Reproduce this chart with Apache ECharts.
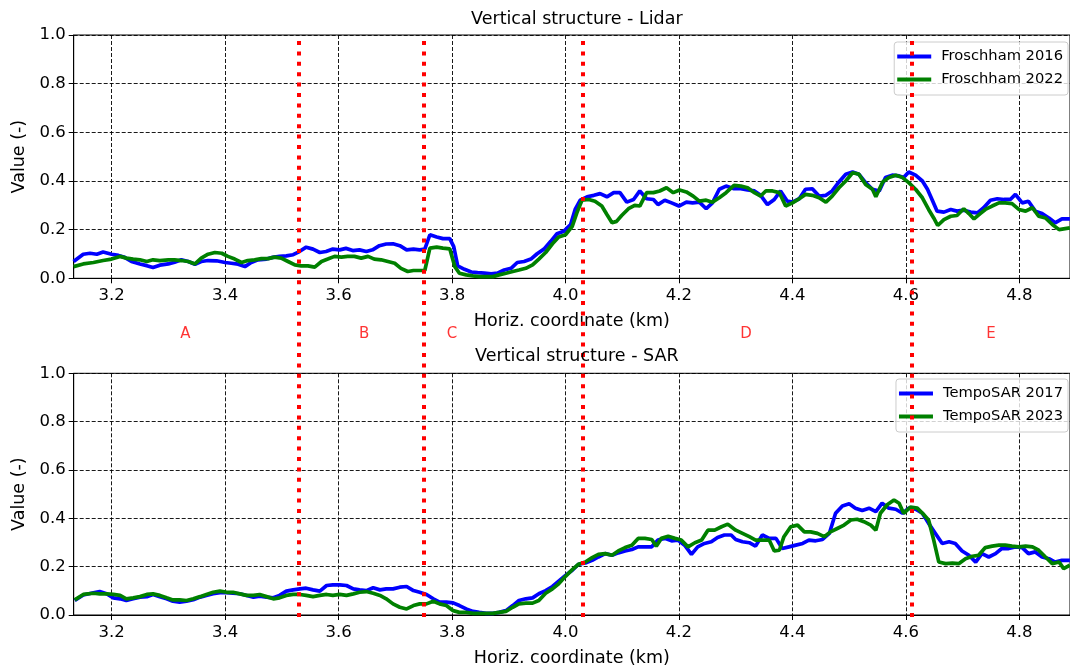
<!DOCTYPE html>
<html><head><meta charset="utf-8">
<script src="https://cdn.jsdelivr.net/npm/echarts@6/dist/echarts.min.js"></script>
<style>html,body{margin:0;padding:0;background:#fff}#c{width:1070px;height:668px}</style>
</head><body><div id="c"></div><script>
// ---- data ----
const xTicks = [3.2, 3.4, 3.6, 3.8, 4.0, 4.2, 4.4, 4.6, 4.8];
const yTicks = [0, 0.2, 0.4, 0.6, 0.8, 1.0];
const boundaries = [3.527, 3.752, 4.028, 4.607];
const regionNames = ['A', 'B', 'C', 'D', 'E'];
const regionLabelX = [3.33, 3.645, 3.80, 4.318, 4.75];

const lidarX2016 = [3.133,3.150,3.162,3.174,3.185,3.200,3.212,3.223,3.235,3.250,3.262,3.273,3.285,3.300,3.311,3.323,3.335,3.347,3.358,3.370,3.385,3.400,3.411,3.423,3.435,3.446,3.458,3.473,3.484,3.496,3.508,3.520,3.531,3.543,3.555,3.567,3.578,3.590,3.602,3.613,3.625,3.637,3.649,3.660,3.672,3.684,3.696,
3.708,3.720,3.732,3.743,3.752,3.761,3.773,3.784,3.796,3.803,3.810,3.822,3.834,3.845,3.857,3.869,3.880,3.892,3.904,3.915,3.927,3.939,3.950,3.962,3.974,3.985,3.997,4.009,4.017,4.026,4.038,4.050,4.061,4.073,4.085,4.096,4.108,4.120,4.131,4.143,4.155,4.163,4.175,4.187,4.200,4.213,4.224,4.236,4.248,4.259,4.271,4.283,
4.297,4.309,4.321,4.333,4.344,4.356,4.368,4.379,4.391,4.400,4.412,4.423,4.435,4.447,4.459,4.470,4.482,4.494,4.506,4.517,4.529,4.541,4.553,4.564,4.576,4.588,4.596,4.605,4.617,4.629,4.638,4.646,4.655,4.667,4.679,4.690,4.702,4.714,4.726,4.737,4.749,4.761,4.773,4.784,4.793,4.805,4.816,4.828,4.840,4.852,4.863,4.875,4.889];
const lidar2016 = [0.069,0.099,0.103,0.099,0.108,0.099,0.094,0.086,0.069,0.059,0.052,0.044,0.054,0.059,0.066,0.076,0.069,0.058,0.069,0.073,0.072,0.065,0.062,0.058,0.048,0.065,0.076,0.079,0.086,0.090,0.092,0.097,0.110,0.128,0.120,0.106,0.110,0.120,0.117,0.123,0.114,0.117,0.110,0.117,0.134,0.141,0.142,
0.134,0.117,0.120,0.117,0.120,0.179,0.170,0.163,0.163,0.130,0.051,0.037,0.026,0.023,0.021,0.018,0.021,0.034,0.041,0.065,0.069,0.079,0.101,0.120,0.152,0.183,0.193,0.221,0.283,0.321,0.335,0.341,0.348,0.335,0.352,0.352,0.313,0.324,0.359,0.327,0.324,0.303,0.321,0.310,0.297,0.313,0.310,0.313,0.286,0.310,0.366,0.379,
0.368,0.368,0.363,0.359,0.341,0.303,0.324,0.359,0.317,0.313,0.327,0.366,0.368,0.338,0.341,0.359,0.396,0.428,0.437,0.428,0.393,0.366,0.359,0.414,0.424,0.421,0.414,0.437,0.424,0.400,0.366,0.324,0.276,0.272,0.283,0.276,0.280,0.272,0.269,0.290,0.321,0.327,0.324,0.324,0.345,0.310,0.317,0.276,0.266,0.248,0.228,0.244,0.244];

const lidarX2022 = [3.133,3.150,3.168,3.185,3.200,3.215,3.226,3.238,3.250,3.262,3.273,3.285,3.300,3.311,3.323,3.335,3.347,3.358,3.370,3.382,3.394,3.405,3.417,3.429,3.440,3.452,3.464,3.476,3.487,3.499,3.511,3.523,3.534,3.546,3.558,3.570,3.581,3.593,3.605,3.616,3.628,3.640,3.652,3.663,3.675,3.687,3.699,3.710,3.722,
3.732,3.743,3.752,3.761,3.773,3.784,3.796,3.805,3.813,3.825,3.837,3.848,3.860,3.872,3.883,3.895,3.907,3.918,3.930,3.942,3.953,3.965,3.977,3.988,4.000,4.012,4.020,4.029,4.041,4.052,4.064,4.073,4.082,4.090,4.099,4.111,4.122,4.131,4.143,4.155,4.166,4.178,4.190,4.201,4.213,4.225,4.236,4.248,4.259,4.271,4.283,
4.297,4.309,4.321,4.333,4.344,4.353,4.365,4.377,4.388,4.400,4.412,4.423,4.435,4.447,4.459,4.470,4.482,4.494,4.506,4.517,4.529,4.541,4.547,4.559,4.570,4.582,4.594,4.605,4.617,4.629,4.640,4.649,4.656,4.667,4.679,4.690,4.702,4.711,4.720,4.731,4.740,4.752,4.764,4.775,4.787,4.799,4.811,4.823,4.834,4.846,4.858,4.870,4.889];
const lidar2022 = [0.048,0.059,0.065,0.073,0.079,0.090,0.083,0.079,0.076,0.069,0.076,0.073,0.076,0.076,0.073,0.069,0.059,0.083,0.099,0.106,0.103,0.090,0.079,0.065,0.073,0.076,0.081,0.081,0.087,0.083,0.069,0.055,0.051,0.051,0.046,0.069,0.079,0.090,0.087,0.090,0.090,0.083,0.090,0.079,0.076,0.069,0.062,0.041,0.028,
0.032,0.032,0.032,0.124,0.128,0.124,0.121,0.048,0.021,0.014,0.010,0.007,0.007,0.007,0.014,0.021,0.028,0.034,0.041,0.055,0.079,0.106,0.142,0.170,0.179,0.214,0.269,0.321,0.324,0.317,0.297,0.262,0.228,0.234,0.258,0.286,0.300,0.297,0.352,0.352,0.359,0.372,0.352,0.363,0.355,0.338,0.317,0.321,0.313,0.331,0.352,
0.382,0.379,0.372,0.352,0.338,0.359,0.359,0.352,0.297,0.310,0.327,0.345,0.341,0.331,0.313,0.338,0.372,0.400,0.434,0.428,0.386,0.366,0.335,0.396,0.414,0.424,0.414,0.393,0.366,0.331,0.283,0.248,0.217,0.241,0.255,0.258,0.286,0.266,0.244,0.266,0.283,0.297,0.310,0.310,0.307,0.283,0.276,0.290,0.255,0.248,0.221,0.200,0.207];

const sarX2017 = [3.135,3.150,3.168,3.179,3.191,3.203,3.215,3.226,3.238,3.250,3.262,3.273,3.285,3.297,3.308,3.320,3.332,3.344,3.356,3.367,3.379,3.391,3.403,3.414,3.426,3.438,3.450,3.461,3.473,3.485,3.496,3.508,3.520,3.532,3.543,3.555,3.567,3.579,3.590,3.602,3.614,3.626,3.637,3.649,3.661,3.673,3.684,3.696,3.708,
3.720,3.732,3.743,3.755,3.767,3.778,3.790,3.802,3.813,3.825,3.837,3.848,3.860,3.872,3.883,3.895,3.907,3.918,3.930,3.942,3.953,3.965,3.977,3.988,4.000,4.012,4.023,4.035,4.047,4.058,4.070,4.082,4.093,4.105,4.117,4.128,4.140,4.152,4.163,4.175,4.187,4.198,4.210,4.222,4.233,4.245,4.257,4.268,4.280,4.292,
4.300,4.312,4.324,4.335,4.347,4.359,4.371,4.382,4.394,4.406,4.418,4.429,4.441,4.453,4.465,4.476,4.488,4.500,4.511,4.523,4.535,4.547,4.558,4.570,4.582,4.594,4.605,4.617,4.629,4.640,4.652,4.664,4.676,4.687,4.699,4.711,4.723,4.734,4.746,4.758,4.769,4.781,4.793,4.805,4.816,4.828,4.840,4.852,4.863,4.875,4.889];
const sar2017 = [0.060,0.083,0.092,0.097,0.088,0.071,0.067,0.060,0.067,0.074,0.076,0.085,0.076,0.067,0.057,0.053,0.057,0.063,0.074,0.081,0.088,0.092,0.092,0.090,0.088,0.081,0.074,0.078,0.074,0.071,0.081,0.099,0.104,0.108,0.111,0.104,0.099,0.122,0.125,0.125,0.122,0.108,0.104,0.101,0.113,0.104,0.108,0.108,0.115,
0.118,0.101,0.094,0.085,0.067,0.053,0.053,0.050,0.039,0.025,0.015,0.011,0.007,0.007,0.011,0.018,0.039,0.060,0.067,0.071,0.088,0.101,0.118,0.140,0.164,0.185,0.210,0.215,0.226,0.240,0.254,0.247,0.257,0.265,0.271,0.282,0.282,0.282,0.310,0.317,0.307,0.310,0.289,0.251,0.282,0.296,0.303,0.321,0.331,0.331,
0.3125,0.303,0.299,0.285,0.331,0.317,0.317,0.275,0.282,0.289,0.296,0.310,0.307,0.3125,0.3375,0.421,0.451,0.460,0.442,0.432,0.442,0.428,0.4625,0.442,0.4375,0.421,0.442,0.4375,0.421,0.379,0.3375,0.296,0.303,0.296,0.265,0.247,0.219,0.254,0.240,0.254,0.275,0.275,0.282,0.279,0.254,0.261,0.240,0.233,0.219,0.226,0.226];

const sarX2023 = [3.135,3.150,3.168,3.179,3.191,3.203,3.215,3.226,3.238,3.250,3.262,3.273,3.285,3.297,3.308,3.320,3.332,3.344,3.356,3.367,3.379,3.391,3.403,3.414,3.426,3.438,3.450,3.461,3.473,3.485,3.496,3.508,3.520,3.532,3.543,3.555,3.567,3.579,3.590,3.602,3.614,3.626,3.637,3.649,3.661,3.673,3.684,3.696,3.708,
3.720,3.732,3.743,3.755,3.767,3.778,3.790,3.802,3.813,3.825,3.837,3.848,3.860,3.872,3.883,3.895,3.907,3.918,3.930,3.942,3.953,3.965,3.977,3.988,4.000,4.012,4.023,4.035,4.047,4.058,4.070,4.082,4.093,4.105,4.117,4.128,4.140,4.152,4.160,4.169,4.181,4.193,4.204,4.216,4.228,4.240,4.251,4.263,4.275,4.286,
4.300,4.312,4.324,4.335,4.347,4.359,4.368,4.377,4.385,4.397,4.409,4.421,4.432,4.444,4.456,4.467,4.479,4.491,4.503,4.514,4.526,4.538,4.547,4.555,4.567,4.579,4.588,4.596,4.608,4.620,4.632,4.640,4.649,4.658,4.670,4.682,4.693,4.705,4.717,4.728,4.740,4.752,4.764,4.775,4.787,4.799,4.811,4.823,4.834,4.846,4.858,4.870,4.878,4.889];
const sar2023 = [0.0625,0.085,0.090,0.0875,0.0875,0.085,0.081,0.067,0.071,0.076,0.085,0.0875,0.081,0.071,0.0625,0.0625,0.060,0.067,0.076,0.085,0.094,0.099,0.094,0.094,0.0875,0.081,0.081,0.085,0.076,0.067,0.071,0.081,0.085,0.085,0.081,0.076,0.081,0.085,0.081,0.085,0.081,0.0875,0.094,0.097,0.090,0.081,0.067,0.046,0.032,
0.025,0.039,0.046,0.046,0.057,0.046,0.039,0.018,0.011,0.011,0.007,0.007,0.007,0.007,0.011,0.015,0.032,0.046,0.049,0.049,0.060,0.090,0.108,0.129,0.160,0.1875,0.210,0.219,0.2375,0.251,0.254,0.247,0.265,0.279,0.289,0.317,0.317,0.3125,0.285,0.317,0.326,0.317,0.310,0.282,0.299,0.310,0.351,0.351,0.365,0.376,
0.351,0.3375,0.324,0.310,0.310,0.310,0.265,0.268,0.324,0.365,0.372,0.344,0.344,0.3375,0.324,0.344,0.358,0.372,0.393,0.396,0.386,0.372,0.351,0.421,0.456,0.476,0.4625,0.421,0.446,0.442,0.414,0.393,0.310,0.219,0.2125,0.215,0.2125,0.233,0.243,0.247,0.279,0.285,0.289,0.289,0.285,0.282,0.285,0.282,0.268,0.240,0.2125,0.219,0.192,0.206];

// ---- layout / style ----
const FONT = 'DejaVu Sans';
const X_MIN = 3.1332, X_MAX = 4.8892;
const PLOT_LEFT = 73.7, PLOT_RIGHT = -2;
const LETTER_Y = 0.486; // vertical placement of region letters in overlay grid (0..1)
const zip = (xs, ys) => xs.map((x, i) => [x, ys[i]]);

function xAxisFor(gi) {
  return {
    type: 'value', gridIndex: gi, min: X_MIN, max: X_MAX,
    name: 'Horiz. coordinate (km)', nameLocation: 'middle', nameGap: 34,
    nameTextStyle: { fontSize: 17.5, color: '#000', fontFamily: FONT },
    axisLine: { show: true, onZero: false, lineStyle: { color: '#000', width: 1 } },
    axisTick: { show: true, customValues: xTicks, length: 5, lineStyle: { color: '#000', width: 1 } },
    axisLabel: { customValues: xTicks, formatter: v => v.toFixed(1), fontSize: 16.5, color: '#000', fontFamily: FONT, margin: 9 },
    splitLine: { show: true, lineStyle: { color: '#000', type: [4, 2], width: 0.9 } }
  };
}
function yAxisFor(gi) {
  return {
    type: 'value', gridIndex: gi, min: yTicks[0], max: yTicks[yTicks.length - 1], interval: 0.2,
    name: 'Value (-)', nameLocation: 'middle', nameGap: 45, nameRotate: 90,
    nameTextStyle: { fontSize: 17.5, color: '#000', fontFamily: FONT },
    axisLine: { show: true, lineStyle: { color: '#000', width: 1 } },
    axisTick: { show: true, length: 5, lineStyle: { color: '#000', width: 1 } },
    axisLabel: { formatter: v => v.toFixed(1), fontSize: 16.5, color: '#000', fontFamily: FONT, margin: 8 },
    splitLine: { show: true, lineStyle: { color: '#000', type: [4, 2], width: 0.9 } }
  };
}
function lineSeries(name, gi, xs, ys, color) {
  return {
    type: 'line', name, xAxisIndex: gi, yAxisIndex: gi, data: zip(xs, ys),
    symbol: 'none', showSymbol: false, lineStyle: { color, width: 3.7 }, itemStyle: { color },
    silent: true, z: 2
  };
}
function legendFor(names, top) {
  return {
    data: names, orient: 'vertical', right: 2, top,
    icon: 'rect', itemWidth: 34, itemHeight: 4, itemGap: 6,
    textStyle: { fontSize: 14.7, color: '#000', fontFamily: FONT, lineHeight: 17, padding: [0, 0, 0, 5] },
    backgroundColor: 'rgba(255,255,255,0.8)', borderColor: '#cccccc', borderWidth: 1, borderRadius: 3,
    padding: [6, 5, 7, 3]
  };
}

const chart = echarts.init(document.getElementById('c'), null, { renderer: 'canvas' });
chart.setOption({
  animation: false,
  backgroundColor: '#ffffff',
  textStyle: { fontFamily: FONT },
  title: [
    { text: 'Vertical structure - Lidar', left: (PLOT_LEFT + 1070) / 2, top: 5, textAlign: 'center',
      textStyle: { fontSize: 17.5, fontWeight: 'normal', color: '#000', fontFamily: FONT } },
    { text: 'Vertical structure - SAR', left: (PLOT_LEFT + 1070) / 2, top: 342, textAlign: 'center',
      textStyle: { fontSize: 17.5, fontWeight: 'normal', color: '#000', fontFamily: FONT } }
  ],
  legend: [
    legendFor(['Froschham 2016', 'Froschham 2022'], 42),
    legendFor(['TempoSAR 2017', 'TempoSAR 2023'], 379)
  ],
  grid: [
    { left: PLOT_LEFT, right: PLOT_RIGHT, top: 35, height: 243.3, show: true, borderColor: '#000', borderWidth: 1, backgroundColor: 'transparent' },
    { left: PLOT_LEFT, right: PLOT_RIGHT, top: 373.3, height: 243, show: true, borderColor: '#000', borderWidth: 1, backgroundColor: 'transparent' },
    { left: PLOT_LEFT, right: PLOT_RIGHT, top: 35, height: 582, show: false }
  ],
  xAxis: [xAxisFor(0), xAxisFor(1), { type: 'value', gridIndex: 2, min: X_MIN, max: X_MAX, show: false }],
  yAxis: [yAxisFor(0), yAxisFor(1), { type: 'value', gridIndex: 2, min: 0, max: 1, show: false }],
  series: [
    lineSeries('Froschham 2016', 0, lidarX2016, lidar2016, '#0000ff'),
    lineSeries('Froschham 2022', 0, lidarX2022, lidar2022, '#008000'),
    lineSeries('TempoSAR 2017', 1, sarX2017, sar2017, '#0000ff'),
    lineSeries('TempoSAR 2023', 1, sarX2023, sar2023, '#008000'),
    {
      type: 'scatter', name: 'regions', xAxisIndex: 2, yAxisIndex: 2, silent: true, z: 10,
      data: regionNames.map((n, i) => ({ name: n, value: [regionLabelX[i], LETTER_Y] })),
      symbolSize: 1, itemStyle: { color: 'rgba(0,0,0,0)' },
      label: { show: true, position: 'inside', formatter: '{b}', color: '#ff0000', fontSize: 15, fontFamily: FONT },
      markLine: {
        silent: true, symbol: 'none', label: { show: false },
        lineStyle: { color: '#ff0000', width: 4, type: [4, 6.4], cap: 'butt', opacity: 1 },
        emphasis: { disabled: true },
        data: boundaries.map(v => ({ xAxis: v }))
      }
    }
  ]
});
</script></body></html>
